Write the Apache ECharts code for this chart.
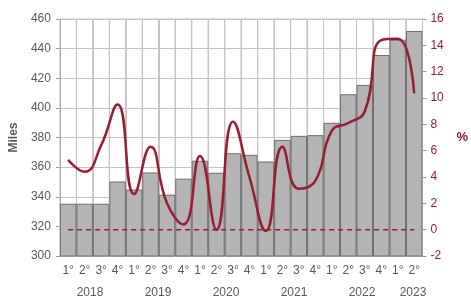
<!DOCTYPE html>
<html>
<head>
<meta charset="utf-8">
<script src="https://cdn.jsdelivr.net/npm/echarts@6/dist/echarts.min.js"></script>
<style>
  html, body { margin: 0; padding: 0; background: #fff; }
  #chart { width: 471px; height: 301px; }
</style>
</head>
<body>
<div id="chart"></div>
<script>
// dados
var quarters = ["1°", "2°", "3°", "4°", "1°", "2°", "3°", "4°", "1°", "2°", "3°",
  "4°", "1°", "2°", "3°", "4°", "1°", "2°", "3°", "4°", "1°", "2°"];
var years = ["2018", "2019", "2020", "2021", "2022", "2023"];
var quartersPerYear = [4, 4, 4, 4, 4, 2];
var miles = [335.3, 335.3, 335.3, 350.3, 344.9, 356.4, 341.4, 352.2, 364.3, 356.2, 369.4,
  368.3, 363.8, 378.4, 381.1, 381.6, 389.9, 409.2, 415.5, 435.7, 446.0, 451.9];
var pct = [5.3, 4.4, 6.4, 9.5, 2.7, 6.3, 2.0, 0.4, 5.6, 0.0, 8.2,
  4.0, -0.1, 6.3, 3.1, 3.7, 7.5, 8.1, 9.0, 14.4, 14.5, 10.35];
var zeroLine = quarters.map(function () { return 0; });

// posição central de cada ano no eixo
var yearAt = {};
var acc = 0;
years.forEach(function (y, i) {
  yearAt[acc + quartersPerYear[i] / 2] = y;
  acc += quartersPerYear[i];
});

var red = "#9b1b30";
var gray = "#595959";
var font = "Liberation Sans, Arial, sans-serif";

var myChart = echarts.init(document.getElementById("chart"));
var option = {
  animation: false,
  grid: [
    { left: 56, right: 41, top: 19, bottom: 45 },
    // grade auxiliar só para a linha dos anos
    { left: 56, right: 41, top: 19, bottom: 45 },
  ],
  xAxis: [
    {
      type: "category",
      gridIndex: 0,
      data: quarters,
      axisLine: { lineStyle: { color: "#999", width: 1 } },
      axisTick: { show: true, interval: 0, length: 5, lineStyle: { color: "rgba(0,0,0,0)" } },
      axisLabel: { color: gray, fontSize: 12, fontFamily: font, margin: 9, interval: 0 },
      splitLine: { show: true, interval: 0, lineStyle: { color: "#c4c4c4", width: 1 } },
    },
    {
      type: "value",
      gridIndex: 1,
      min: 0,
      max: quarters.length,
      interval: 1,
      position: "bottom",
      offset: 22,
      axisLine: { show: false },
      axisTick: { show: false },
      splitLine: { show: false },
      axisLabel: {
        color: gray,
        fontSize: 12,
        fontFamily: font,
        margin: 9,
        showMinLabel: true,
        showMaxLabel: true,
        formatter: function (v) {
          return yearAt[v] || "";
        },
      },
    },
  ],
  yAxis: [
    {
      type: "value",
      gridIndex: 0,
      name: "Miles",
      nameLocation: "middle",
      nameGap: 38,
      nameTextStyle: { color: gray, fontSize: 12, fontWeight: "bold", fontFamily: font },
      min: 300,
      max: 460,
      interval: 20,
      axisLine: { show: true, lineStyle: { color: "#999" } },
      axisTick: { show: true, length: 4, lineStyle: { color: "#999" } },
      axisLabel: { color: gray, fontSize: 12, fontFamily: font, margin: 9 },
      splitLine: { show: true, lineStyle: { color: "#c4c4c4", width: 1 } },
    },
    {
      type: "value",
      gridIndex: 0,
      name: "%",
      nameLocation: "middle",
      nameRotate: 0,
      nameGap: 34,
      nameTextStyle: { color: red, fontSize: 13, fontWeight: "bold", fontFamily: font },
      min: -2,
      max: 16,
      interval: 2,
      position: "right",
      axisLine: { show: true, lineStyle: { color: "#999" } },
      axisTick: { show: true, length: 4, lineStyle: { color: "#999" } },
      axisLabel: { color: red, fontSize: 12, fontFamily: font, margin: 8 },
      splitLine: { show: false },
    },
    {
      type: "value",
      gridIndex: 1,
      show: false,
      min: 0,
      max: 1,
      splitLine: { show: false },
    },
  ],
  series: [
    {
      type: "bar",
      xAxisIndex: 0,
      yAxisIndex: 0,
      data: miles,
      barCategoryGap: "0%",
      // o fundo de cada barra desenha as linhas verticais da grade
      showBackground: true,
      backgroundStyle: { color: "rgba(0,0,0,0)", borderColor: "#c4c4c4", borderWidth: 1 },
      itemStyle: { color: "#b4b4b4", borderColor: "#6e6e6e", borderWidth: 1 },
    },
    {
      type: "line",
      xAxisIndex: 0,
      yAxisIndex: 1,
      data: zeroLine,
      symbol: "none",
      lineStyle: { color: red, width: 1.5, type: [5, 4] },
    },
    {
      type: "line",
      xAxisIndex: 0,
      yAxisIndex: 1,
      data: pct,
      smooth: 0.5,
      symbol: "none",
      lineStyle: { color: red, width: 2.5 },
    },
  ],
};
myChart.setOption(option);
</script>
</body>
</html>
